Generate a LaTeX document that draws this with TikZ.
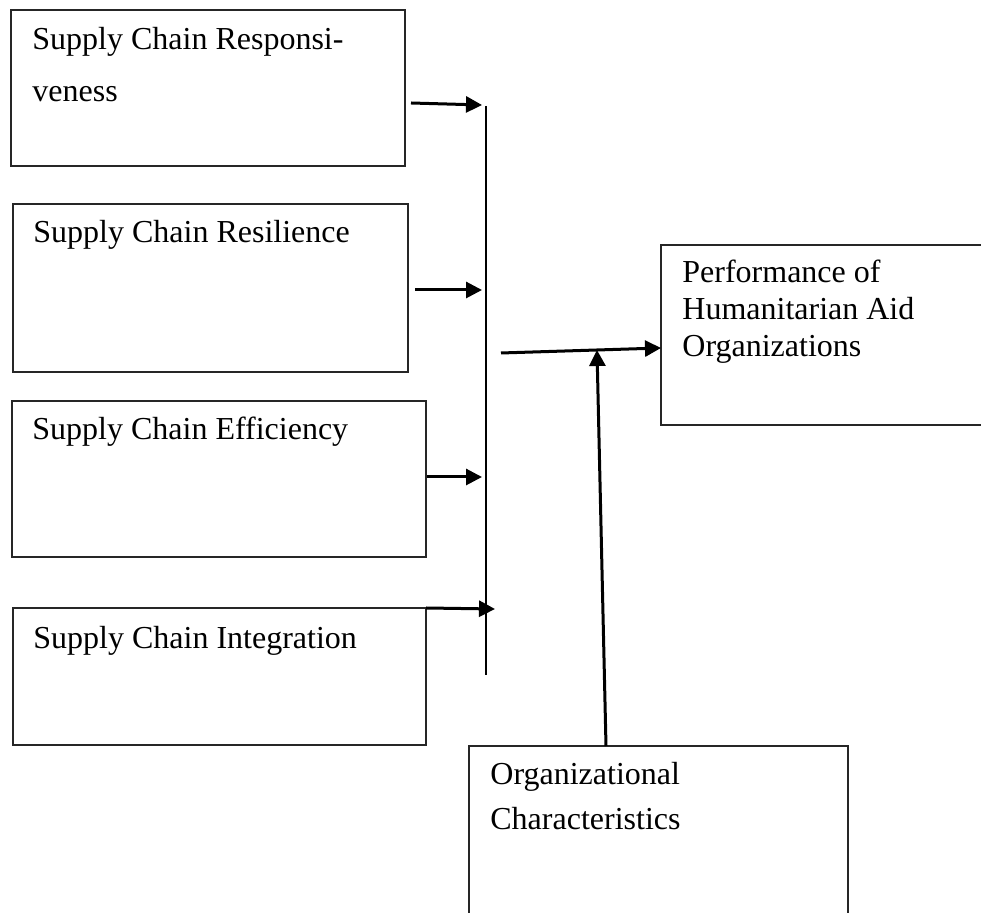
\documentclass[tikz,border=0pt]{standalone}
\usepackage{fontspec}
\setmainfont{Liberation Serif}
\usetikzlibrary{arrows.meta}
\begin{document}
\begin{tikzpicture}[x=0.5pt,y=-0.5pt,
  boxnode/.style={draw=black!85,line width=0.7pt,rectangle,inner sep=0pt,outer sep=0pt,anchor=north west},
  txt/.style={anchor=base west,inner sep=0pt,font=\fontsize{16pt}{19pt}\selectfont},
  arr/.style={line width=1.5pt,-{Triangle[length=8pt,width=8pt]}},
  busline/.style={line width=0.8pt}]
\useasboundingbox (0,0) rectangle (981,913);
\clip (0,0) rectangle (981,913);
% boxes
\node[boxnode,minimum width=197pt,minimum height=78pt] (b1) at (11,10) {};
\node[boxnode,minimum width=197.5pt,minimum height=84pt] (b2) at (13,204) {};
\node[boxnode,minimum width=207pt,minimum height=78pt] (b3) at (12,401) {};
\node[boxnode,minimum width=206.5pt,minimum height=68.5pt] (b4) at (13,608) {};
\node[boxnode,minimum width=170pt,minimum height=90pt] (perf) at (661,245) {};
\node[boxnode,minimum width=189.5pt,minimum height=95pt] (org) at (469,746) {};
% texts
\node[txt] (t1a) at (32,50) {Supply Chain Responsi-};
\node[txt] (t1b) at (32,102) {veness};
\node[txt] (t2) at (33,243) {Supply Chain Resilience};
\node[txt] (t3) at (32,440) {Supply Chain Efficiency};
\node[txt] (t4) at (33,649) {Supply Chain Integration};
\node[txt] (p1) at (682,283) {Performance of};
\node[txt] (p2) at (682,320) {Humanitarian Aid};
\node[txt] (p3) at (682,357) {Organizations};
\node[txt] (o1) at (490,785) {Organizational};
\node[txt] (o2) at (490,830) {Characteristics};
% coordinates
\coordinate (bustop) at (486,106);
\coordinate (busbot) at (486,675);
\coordinate (a1s) at (411,103);
\coordinate (a1e) at (482,105);
\coordinate (a2s) at (415,290);
\coordinate (a2e) at (482,290);
\coordinate (a3s) at (427,477);
\coordinate (a3e) at (482,477);
\coordinate (a4e) at (495,609);
\coordinate (hs) at (501,353);
\coordinate (he) at (661,348);
\coordinate (vs) at (606,746);
\coordinate (ve) at (597,350);
% connectors
\draw[busline] (bustop) -- (busbot);
\draw[arr] (a1s) -- (a1e);
\draw[arr] (a2s) -- (a2e);
\draw[arr] (a3s) -- (a3e);
\draw[arr] (b4.north east) -- (a4e);
\draw[arr] (hs) -- (he);
\draw[arr] (vs) -- (ve);
\end{tikzpicture}
\end{document}
